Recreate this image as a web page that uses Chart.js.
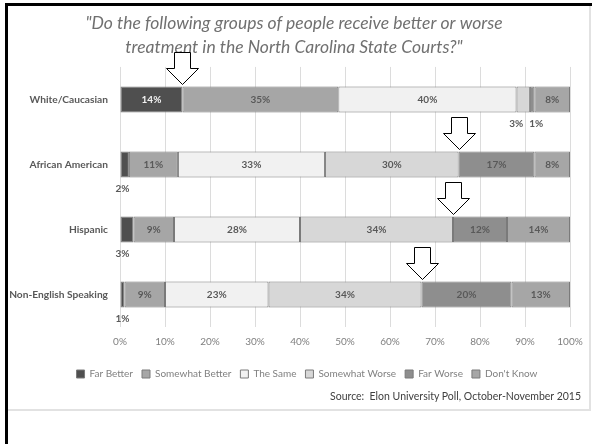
<!DOCTYPE html>
<html>
<head>
<meta charset="utf-8">
<title>Treatment in the North Carolina State Courts</title>
<script src="https://cdn.jsdelivr.net/npm/chart.js@4.4.0/dist/chart.umd.min.js"></script>
<style>
    html, body { margin: 0; padding: 0; background: #fff; }
    #frame { position: absolute; left: 0; top: 0; width: 592px; height: 444px; overflow: hidden; }
    #edgeTop { position: absolute; left: 5px; top: 3px; width: 587px; height: 3px; background: #000; }
    #edgeLeft { position: absolute; left: 5px; top: 3px; width: 3px; height: 441px; background: #000; }
    #panelRight { position: absolute; left: 589px; top: 6px; width: 2px; height: 404px; background: #e2e2e2; }
    #panelBottom { position: absolute; left: 8px; top: 409px; width: 583px; height: 2px; background: #e2e2e2; }
    #chartBox { position: absolute; left: 0; top: 0; width: 592px; height: 444px; }
    #source { position: absolute; right: 11px; top: 390px; font: 10.5px Lato, sans-serif; color: #404040; white-space: pre; }
</style>
</head>
<body>
<div id="frame">
    <div id="chartBox"><canvas id="courtsChart" width="592" height="444"></canvas></div>
    <div id="edgeTop"></div>
    <div id="edgeLeft"></div>
    <div id="panelRight"></div>
    <div id="panelBottom"></div>
    <div id="source">Source:  Elon University Poll, October-November 2015</div>
</div>
<script>
const groups = ['White/Caucasian', 'African American', 'Hispanic', 'Non-English Speaking'];
const seriesNames = ['Far Better', 'Somewhat Better', 'The Same', 'Somewhat Worse', 'Far Worse', "Don't Know"];

const farBetter = [14, 2, 3, 1];
const somewhatBetter = [35, 11, 9, 9];
const theSame = [40, 33, 28, 23];
const somewhatWorse = [3, 30, 34, 34];
const farWorse = [1, 17, 12, 20];
const dontKnow = [8, 8, 14, 13];

const axisMax = 100;
const tickStep = 10;

// which segment each arrow points at (end of that segment)
const arrowAfter = [0, 3, 3, 3];

const seriesValues = [farBetter, somewhatBetter, theSame, somewhatWorse, farWorse, dontKnow];
const seriesColors = ['#4f4f4f', '#a6a6a6', '#f1f1f1', '#d7d7d7', '#8e8e8e', '#a6a6a6'];

let courtsChartInstance = null;

// 100% stacked: each row is scaled to its own total like Excel does
function rowTotals() {
    return groups.map((g, i) => seriesValues.reduce((sum, s) => sum + s[i], 0));
}

const barLabelPlugin = {
    id: 'barLabels',
    afterDatasetsDraw(chart) {
        const ctx = chart.ctx;
        ctx.save();
        ctx.font = 'bold 10px Lato, sans-serif';
        ctx.textBaseline = 'middle';
        chart.data.datasets.forEach((ds, di) => {
            chart.getDatasetMeta(di).data.forEach((bar, i) => {
                const v = ds.rawValues[i];
                const mid = (bar.x + bar.base) / 2;
                const text = v + '%';
                if (v >= 5) {
                    ctx.fillStyle = di === 0 ? '#f2f2f2' : '#595959';
                    ctx.textAlign = 'center';
                    ctx.fillText(text, mid, bar.y);
                    return;
                }
                // small segments get their label under the bar
                const y = bar.y + bar.height / 2 + 11;
                ctx.fillStyle = '#595959';
                if (di === 0) {
                    ctx.textAlign = 'left';
                    ctx.fillText(text, bar.base - 5, y);
                } else if (di === 3) {
                    ctx.textAlign = 'right';
                    ctx.fillText(text, mid, y);
                } else {
                    ctx.textAlign = 'left';
                    ctx.fillText(text, mid - 3, y);
                }
            });
        });
        ctx.restore();
    }
};

function drawArrow(ctx, x, tipY) {
    const shaftW = 16, headW = 32, shaftH = 16, headH = 16;
    const top = tipY - shaftH - headH;
    ctx.beginPath();
    ctx.moveTo(x - shaftW / 2, top);
    ctx.lineTo(x + shaftW / 2, top);
    ctx.lineTo(x + shaftW / 2, top + shaftH);
    ctx.lineTo(x + headW / 2, top + shaftH);
    ctx.lineTo(x, tipY);
    ctx.lineTo(x - headW / 2, top + shaftH);
    ctx.lineTo(x - shaftW / 2, top + shaftH);
    ctx.closePath();
    ctx.fillStyle = '#ffffff';
    ctx.fill();
    ctx.strokeStyle = '#000000';
    ctx.lineWidth = 1;
    ctx.stroke();
}

const arrowPlugin = {
    id: 'arrows',
    afterDraw(chart) {
        const ctx = chart.ctx;
        ctx.save();
        arrowAfter.forEach((di, i) => {
            const bar = chart.getDatasetMeta(di).data[i];
            drawArrow(ctx, Math.round(bar.x) + 0.5, Math.round(bar.y - bar.height / 2) - 1.5);
        });
        ctx.restore();
    }
};

// title and legend in the original sit a bit right of centre
const boxShiftPlugin = {
    id: 'boxShift',
    afterLayout(chart) {
        if (chart.titleBlock) chart.titleBlock.left += 18;
        if (chart.legend) chart.legend.left += 44;
    }
};

function initCourtsChart() {
    const totals = rowTotals();
    const ctx = document.getElementById('courtsChart').getContext('2d');
    if (courtsChartInstance) courtsChartInstance.destroy();

    courtsChartInstance = new Chart(ctx, {
        type: 'bar',
        data: {
            labels: groups,
            datasets: seriesNames.map((name, di) => ({
                label: name,
                data: seriesValues[di].map((v, i) => v / totals[i] * 100),
                rawValues: seriesValues[di],
                backgroundColor: seriesColors[di],
                borderColor: '#7a7a7a',
                borderWidth: 1,
                borderSkipped: false,
                barPercentage: 0.4,
                categoryPercentage: 1
            }))
        },
        options: {
            indexAxis: 'y',
            responsive: false,
            animation: false,
            layout: { padding: { left: 0, right: 22, top: 0, bottom: 55 } },
            plugins: {
                title: {
                    display: true,
                    text: ['"Do the following groups of people receive better or worse',
                           'treatment in the North Carolina State Courts?"'],
                    color: '#707070',
                    font: { family: 'Lato, sans-serif', size: 17.5, style: 'italic', weight: 'normal', lineHeight: 1.37 },
                    padding: { top: 11, bottom: 8 }
                },
                legend: {
                    position: 'bottom',
                    labels: {
                        boxWidth: 8,
                        boxHeight: 8,
                        padding: 9,
                        color: '#808080',
                        font: { family: 'Lato, sans-serif', size: 10 }
                    }
                },
                tooltip: { enabled: false }
            },
            scales: {
                x: {
                    stacked: true,
                    min: 0,
                    max: axisMax,
                    grid: { color: '#dcdcdc', drawTicks: false },
                    border: { display: false },
                    ticks: {
                        stepSize: tickStep,
                        padding: 9,
                        color: '#7f7f7f',
                        font: { family: 'Lato, sans-serif', size: 10 },
                        callback: value => value + '%'
                    },
                    afterFit: scale => { scale.height = 33; }
                },
                y: {
                    stacked: true,
                    grid: { display: false, drawTicks: false },
                    border: { display: false },
                    ticks: {
                        padding: 12,
                        color: '#595959',
                        font: { family: 'Lato, sans-serif', size: 10.2, weight: 'bold' }
                    },
                    afterFit: scale => { scale.width = 120; }
                }
            }
        },
        plugins: [barLabelPlugin, arrowPlugin, boxShiftPlugin]
    });
}

document.addEventListener('DOMContentLoaded', initCourtsChart);
</script>
</body>
</html>
